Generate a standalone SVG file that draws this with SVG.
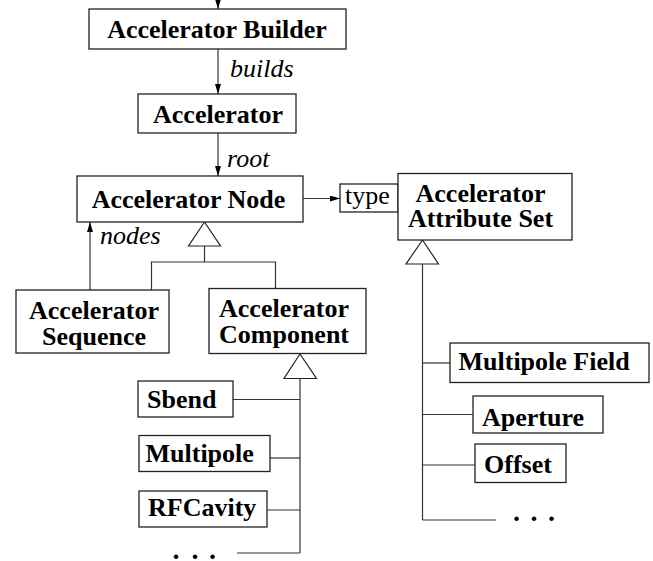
<svg xmlns="http://www.w3.org/2000/svg" width="653" height="561" viewBox="0 0 653 561">
<style>
.box{fill:#fff;stroke:#222;stroke-width:1.3}
.ln{fill:none;stroke:#333;stroke-width:1.2}
.tri{fill:#fff;stroke:#222;stroke-width:1.2}
.b{font-family:"Liberation Serif","Times New Roman",serif;font-weight:bold;font-size:26px;fill:#000}
.i{font-family:"Liberation Serif","Times New Roman",serif;font-style:italic;font-size:26px;fill:#000}
.r{font-family:"Liberation Serif","Times New Roman",serif;font-size:26px;fill:#000}
.m{text-anchor:middle}
</style>
<defs>
<marker id="ah" viewBox="0 0 10 6" refX="10" refY="3" markerWidth="10" markerHeight="6" markerUnits="userSpaceOnUse" orient="auto">
<path d="M0,0 L10,3 L0,6 z" fill="#000"/>
</marker>
</defs>
<g id="connectors">
<line class="ln" x1="218" y1="0" x2="218" y2="9" marker-end="url(#ah)"/>
<line class="ln" x1="218" y1="49" x2="218" y2="94" marker-end="url(#ah)"/>
<text class="i" x="230" y="77">builds</text>
<line class="ln" x1="218" y1="133" x2="218" y2="176" marker-end="url(#ah)"/>
<text class="i" x="227" y="167">root</text>
<line class="ln" x1="303" y1="198.5" x2="340" y2="198.5" marker-end="url(#ah)"/>
<line class="ln" x1="90" y1="290" x2="90" y2="222" marker-end="url(#ah)"/>
<text class="i" x="100" y="244">nodes</text>
<polygon class="tri" points="204.5,222 188.5,246 220.5,246"/>
<polyline class="ln" points="204.5,246 204.5,262"/>
<polyline class="ln" points="151.5,290 151.5,262 275.5,262 275.5,288"/>
<polygon class="tri" points="300,354 284,378.5 316.5,378.5"/>
<line class="ln" x1="300" y1="378.5" x2="300" y2="553"/>
<line class="ln" x1="233" y1="399.5" x2="300" y2="399.5"/>
<line class="ln" x1="270" y1="458" x2="300" y2="458"/>
<line class="ln" x1="267" y1="510" x2="300" y2="510"/>
<line class="ln" x1="237" y1="553" x2="300" y2="553"/>
<polygon class="tri" points="422.5,240 406,264 438.5,264"/>
<line class="ln" x1="422.5" y1="264" x2="422.5" y2="520"/>
<line class="ln" x1="422.5" y1="363" x2="450" y2="363"/>
<line class="ln" x1="422.5" y1="414.5" x2="473" y2="414.5"/>
<line class="ln" x1="422.5" y1="465" x2="475" y2="465"/>
<line class="ln" x1="422.5" y1="520" x2="496" y2="520"/>
</g>
<g id="builder"><rect class="box" x="89" y="9" width="257" height="40"/><text class="b m" x="217" y="38">Accelerator Builder</text></g>
<g id="accelerator"><rect class="box" x="138" y="94" width="158" height="39"/><text class="b m" x="218" y="123">Accelerator</text></g>
<g id="node"><rect class="box" x="77" y="176" width="226" height="46"/><text class="b m" x="188.5" y="208">Accelerator Node</text></g>
<g id="type"><rect class="box" x="340" y="184" width="58" height="28"/><text class="r" x="345" y="203.5">type</text></g>
<g id="attrset"><rect class="box" x="398" y="173.5" width="174" height="66.5"/><text class="b m" x="480.5" y="202">Accelerator</text><text class="b m" x="480.5" y="227">Attribute Set</text></g>
<g id="sequence"><rect class="box" x="16" y="290" width="153" height="63"/><text class="b m" x="94" y="318.5">Accelerator</text><text class="b m" x="94" y="345">Sequence</text></g>
<g id="component"><rect class="box" x="209" y="288.5" width="157" height="65"/><text class="b m" x="284" y="317">Accelerator</text><text class="b m" x="284" y="343">Component</text></g>
<g id="sbend"><rect class="box" x="138" y="381" width="95" height="36"/><text class="b" x="147" y="407.5">Sbend</text></g>
<g id="multipole"><rect class="box" x="139" y="435.5" width="131" height="36"/><text class="b" x="145.5" y="462">Multipole</text></g>
<g id="rfcavity"><rect class="box" x="139" y="491" width="128" height="36"/><text class="b" x="148" y="516">RFCavity</text></g>
<g id="more1"><text class="b" x="172.5 191.5 209" y="559" style="font-size:28px">...</text></g>
<g id="multipolefield"><rect class="box" x="450" y="343" width="199" height="39.5"/><text class="b" x="458.5" y="370">Multipole Field</text></g>
<g id="aperture"><rect class="box" x="473" y="396" width="130" height="37"/><text class="b" x="482" y="426">Aperture</text></g>
<g id="offset"><rect class="box" x="475" y="444" width="91" height="38.5"/><text class="b" x="484" y="473">Offset</text></g>
<g id="more2"><text class="b" x="513 530.5 548" y="520.5" style="font-size:28px">...</text></g>
</svg>
